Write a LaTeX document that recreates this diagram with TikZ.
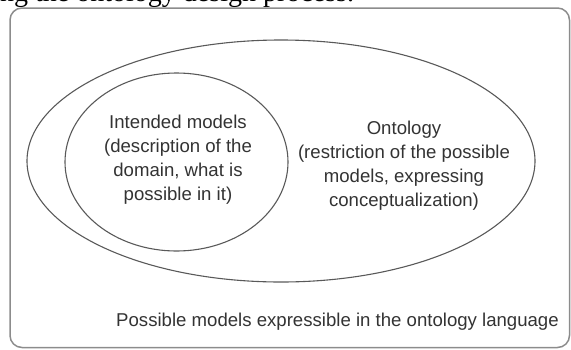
\documentclass[tikz,border=0pt]{standalone}
\usepackage{fontspec}
\setmainfont{Liberation Sans}
\newfontfamily\capfont{Liberation Serif}
\usetikzlibrary{shapes.geometric}
\newcommand{\figfont}{\fontsize{18.6}{24}\selectfont}
\begin{document}
\begin{tikzpicture}[x=1pt, y=-1pt, every node/.style={inner sep=0pt}, lbl/.style={align=center, text=black!80, font=\figfont}, oval/.style={ellipse, draw=black!65, line width=1.1pt}]
        \useasboundingbox (0,0) rectangle (571,349);
        \clip (0,0) rectangle (571,349);
        \node[anchor=base west, font=\capfont\fontsize{28}{30}\selectfont] (caption) at (0,1.5) {ng the ontology design process.};
        \node[draw=black!45, line width=1.5pt, rounded corners=12pt, minimum width=559.5pt, minimum height=339.5pt] (possible) at (289.75,177.75) {};
        \node[oval, minimum width=508pt, minimum height=242pt] (ontology) at (281,161) {};
        \node[oval, minimum width=223pt, minimum height=178pt] (intended) at (176.5,162) {};
        \node[lbl] (intendedtext) at (178,159.5) {Intended models\\(description of the\\domain, what is\\possible in it)};
        \node[lbl] (ontologytext) at (404,165.5) {Ontology\\(restriction of the possible\\models, expressing\\conceptualization)};
        \node[lbl, anchor=base] (possibletext) at (337.5,326) {Possible models expressible in the ontology language};
\end{tikzpicture}
\end{document}
